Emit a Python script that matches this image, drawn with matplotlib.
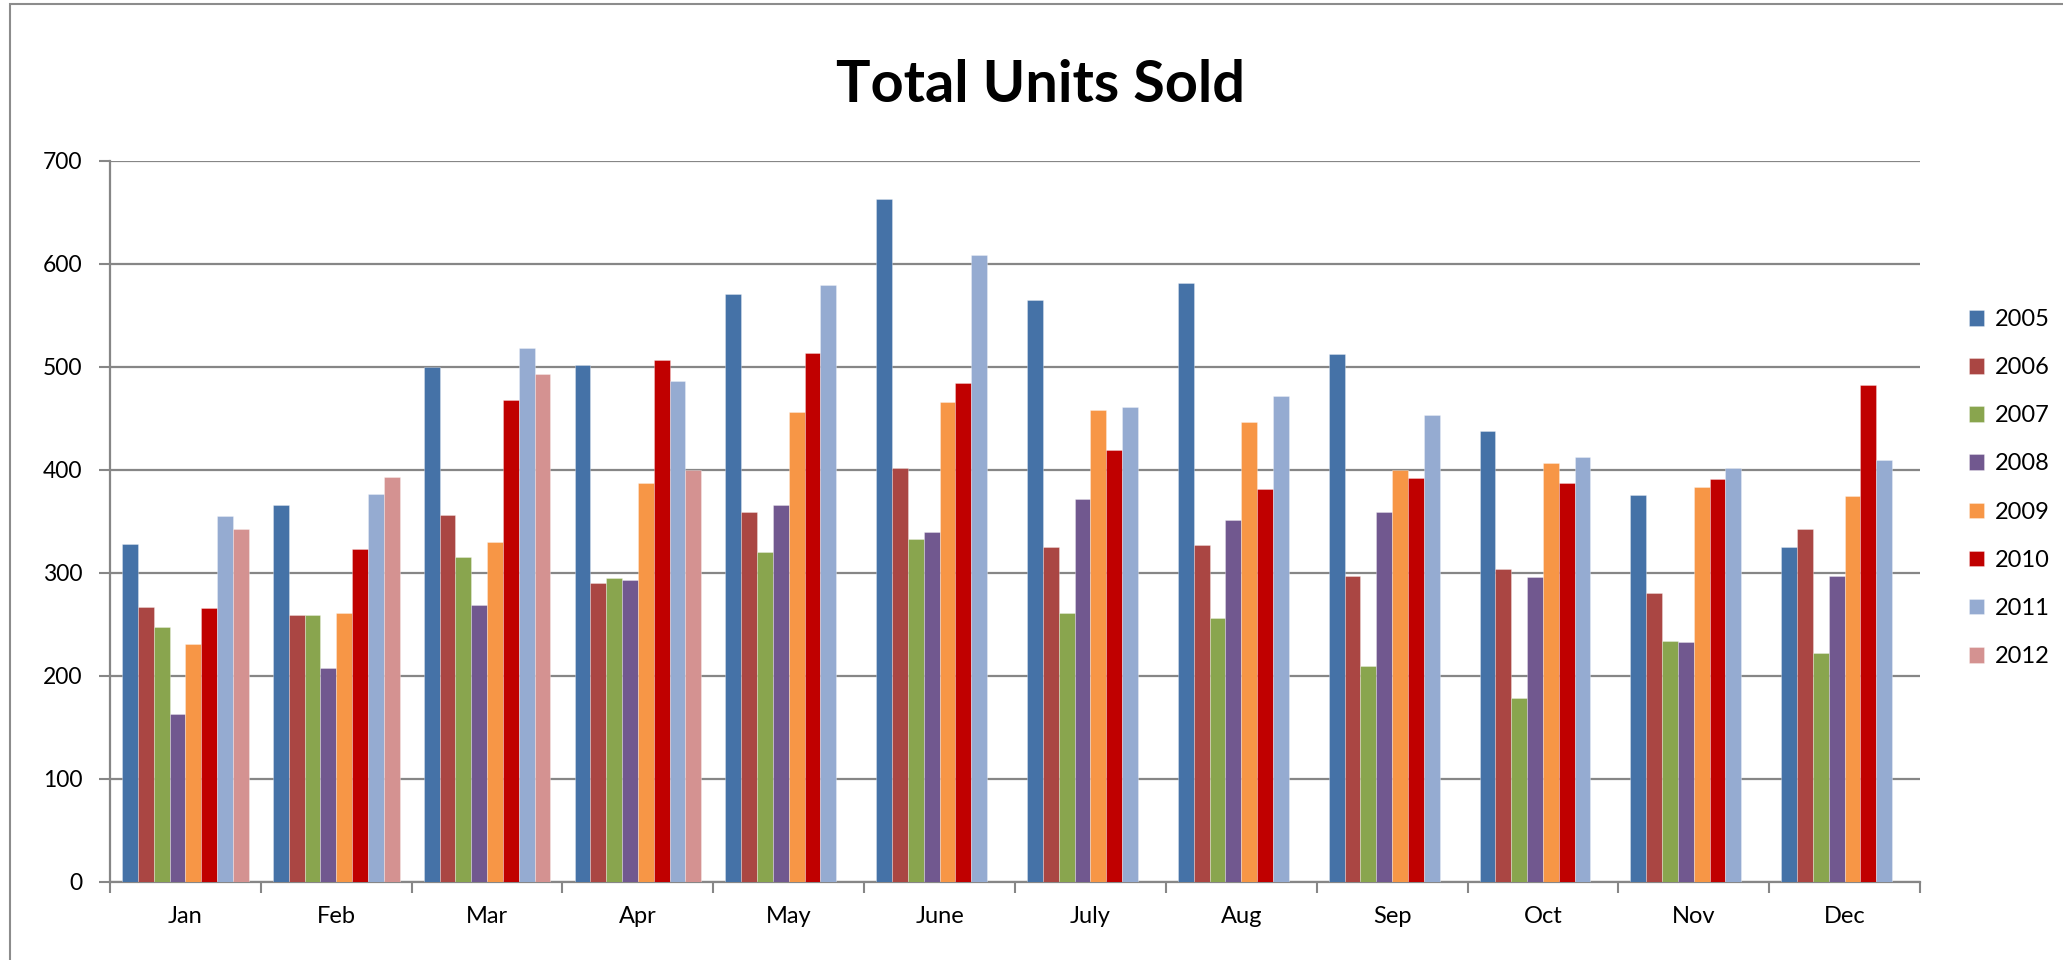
import numpy as np
import matplotlib
matplotlib.use("Agg")
import matplotlib.pyplot as plt
from matplotlib.patches import Rectangle

months = ["Jan", "Feb", "Mar", "Apr", "May", "June", "July", "Aug", "Sep", "Oct", "Nov", "Dec"]
years = ["2005", "2006", "2007", "2008", "2009", "2010", "2011", "2012"]

s2005 = [328, 366, 500, 502, 571, 663, 565, 581, 512, 438, 376, 325]
s2006 = [267, 259, 356, 290, 359, 402, 325, 327, 297, 304, 280, 343]
s2007 = [247, 259, 315, 295, 320, 333, 261, 256, 210, 179, 234, 222]
s2008 = [163, 208, 269, 293, 366, 340, 372, 351, 359, 296, 233, 297]
s2009 = [231, 261, 330, 387, 456, 466, 458, 446, 400, 407, 383, 375]
s2010 = [266, 323, 468, 507, 513, 484, 419, 381, 392, 387, 391, 482]
s2011 = [355, 377, 518, 486, 579, 608, 461, 472, 453, 412, 402, 410]
s2012 = [343, 393, 493, 400, None, None, None, None, None, None, None, None]

series = [s2005, s2006, s2007, s2008, s2009, s2010, s2011, s2012]
colors = ["#4572A7", "#AA4643", "#89A54E", "#71588F", "#F79646", "#C00000", "#95ABD1", "#D49291"]

plt.rcParams['font.family'] = ['Lato', 'DejaVu Sans']

W, H = 2063, 960
fig = plt.figure(figsize=(W / 100, H / 100), dpi=100)
ax = fig.add_axes([110 / W, 1 - 882 / H, 1810 / W, (882 - 160.7) / H])

n = len(series)
x = np.arange(len(months))
bw = 0.84 / n
for i, (lab, vals, c) in enumerate(zip(years, series, colors)):
    v = np.array([np.nan if a is None else a for a in vals], dtype=float)
    ax.bar(x - 0.42 + bw * (i + 0.5), v, width=bw, color=c, label=lab,
           edgecolor=(1, 1, 1, 0.35), linewidth=0.6, zorder=3)

ax.set_xlim(-0.5, len(months) - 0.5)
ax.set_ylim(0, 700)
ax.set_yticks(np.arange(0, 701, 100))
ax.set_xticks(x)
ax.set_xticklabels(months)
ax.set_xticks(np.arange(-0.5, len(months), 1), minor=True)
ax.tick_params(axis='x', which='major', length=0, pad=17, labelsize=17)
ax.tick_params(axis='x', which='minor', length=8, width=1.5, color='#868686')
ax.tick_params(axis='y', length=8, width=1.5, color='#868686', pad=12, labelsize=16.5)

ax.grid(axis='y', color='#868686', linewidth=1.6, zorder=0)
ax.set_axisbelow(True)
for s in ['top', 'right']:
    ax.spines[s].set_visible(False)
for s in ['left', 'bottom']:
    ax.spines[s].set_color('#868686')
    ax.spines[s].set_linewidth(1.6)

fig.text(1041 / W, 1 - 102 / H, "Total Units Sold", ha='center', va='baseline',
         fontsize=41.5, fontweight='bold')

leg = ax.legend(loc='upper left', bbox_to_anchor=(1969 / W, 1 - 309 / H),
                bbox_transform=fig.transFigure, frameon=False, fontsize=17,
                handlelength=0.64, handleheight=0.64, handletextpad=0.45,
                labelspacing=1.15, borderpad=0, borderaxespad=0)

fig.add_artist(Rectangle((10 / W, -0.1), 1.2, 1.1 - 4.5 / H, transform=fig.transFigure,
                         fill=False, edgecolor='#8C8C8C', linewidth=1.5))

fig.savefig("out.png", dpi=100, facecolor='white')
